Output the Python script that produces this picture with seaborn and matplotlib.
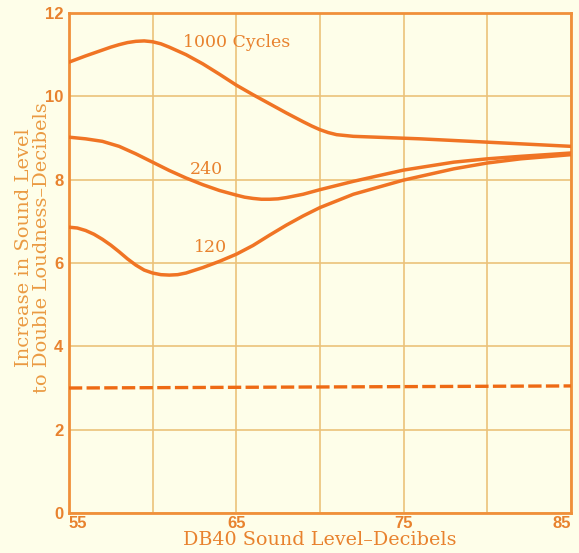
import matplotlib
matplotlib.use('Agg')
import matplotlib.pyplot as plt
import seaborn as sns
import pandas as pd

# values
x_1000 = [55, 56, 57, 57.5, 58, 58.5, 59, 59.5, 60, 60.5, 61, 62, 63, 64, 65, 66, 67, 68, 69, 69.5, 70, 70.5, 71, 72, 74, 76, 78, 80, 82, 85]
y_1000 = [10.82, 10.97, 11.11, 11.18, 11.24, 11.29, 11.32, 11.33, 11.31, 11.26, 11.18, 11.0, 10.78, 10.53, 10.27, 10.04, 9.82, 9.6, 9.39, 9.29, 9.2, 9.13, 9.08, 9.04, 9.01, 8.98, 8.94, 8.9, 8.86, 8.8]

x_240 = [55, 56, 57, 58, 59, 60, 61, 62, 63, 64, 65, 65.5, 66, 66.5, 67, 67.5, 68, 69, 70, 72, 75, 78, 80, 82, 85]
y_240 = [9.02, 8.98, 8.92, 8.80, 8.62, 8.42, 8.22, 8.04, 7.88, 7.74, 7.63, 7.58, 7.55, 7.53, 7.53, 7.54, 7.57, 7.65, 7.76, 7.96, 8.23, 8.42, 8.50, 8.56, 8.64]

x_120 = [55, 55.5, 56, 56.5, 57, 57.5, 58, 58.5, 59, 59.5, 60, 60.5, 61, 61.5, 62, 63, 64, 65, 66, 67, 68, 69, 70, 72, 75, 78, 80, 82, 85]
y_120 = [6.86, 6.84, 6.78, 6.69, 6.57, 6.43, 6.27, 6.10, 5.95, 5.83, 5.76, 5.72, 5.71, 5.72, 5.76, 5.89, 6.04, 6.21, 6.42, 6.67, 6.91, 7.13, 7.33, 7.65, 7.99, 8.26, 8.40, 8.50, 8.60]

x_ref = [55, 85]
y_ref = [3.0, 3.05]

x_ticks = [55, 65, 75, 85]
x_grid = [60, 70, 80]
y_ticks = [0, 2, 4, 6, 8, 10, 12]

curve_color = '#F07424'
grid_color = '#EBC27A'
text_color = '#E8822E'
bg_color = '#FEFEE9'

sns.set_theme(style='white')
plt.rcParams['font.family'] = ['DejaVu Serif']

fig = plt.figure(figsize=(5.79, 5.53), dpi=100)
fig.patch.set_facecolor(bg_color)
ax = fig.add_axes([0.119, 0.0723, 0.867, 0.9042])
ax.set_facecolor(bg_color)

for xs, ys in [(x_1000, y_1000), (x_240, y_240), (x_120, y_120)]:
    df = pd.DataFrame({'x': xs, 'y': ys})
    sns.lineplot(data=df, x='x', y='y', ax=ax, color=curve_color, lw=2.5, zorder=3,
                 solid_joinstyle='round', solid_capstyle='round')

ref = pd.DataFrame({'x': x_ref, 'y': y_ref})
sns.lineplot(data=ref, x='x', y='y', ax=ax, color='#EE6A14', lw=2.4,
             linestyle=(0, (4, 1.3)), zorder=3)

ax.set_xlim(55, 85)
ax.set_ylim(0, 12)
ax.set_xticks(x_ticks)
ax.set_xticks(x_grid, minor=True)
ax.set_yticks(y_ticks)
ax.grid(True, which='both', color=grid_color, lw=1.2, zorder=1)
ax.tick_params(which='both', length=0, colors=text_color)
ax.tick_params(axis='x', pad=2)
ax.tick_params(axis='y', pad=4)
for lab in ax.get_xticklabels() + ax.get_yticklabels():
    lab.set_family('Liberation Sans')
    lab.set_fontweight('bold')
    lab.set_fontsize(12)
    lab.set_color(text_color)
xlabs = ax.get_xticklabels()
xlabs[0].set_ha('left')
xlabs[-1].set_ha('right')

for side in ['left', 'bottom', 'top', 'right']:
    ax.spines[side].set_visible(True)
    ax.spines[side].set_color('#F0903A')
    ax.spines[side].set_linewidth(2)

ax.set_xlabel('DB40 Sound Level\u2013Decibels', fontsize=13.8, color=text_color, labelpad=0)
ax.set_ylabel('Increase in Sound Level\nto Double Loudness\u2013Decibels', fontsize=14,
              color='#EA9A42', linespacing=0.98)
ax.yaxis.set_label_coords(-0.036, 0.53)

ax.text(61.8, 11.3, '1000 Cycles', fontsize=12.5, color=text_color, va='center', ha='left')
ax.text(62.2, 8.25, '240', fontsize=12.5, color=text_color, va='center', ha='left')
ax.text(62.5, 6.38, '120', fontsize=12.5, color=text_color, va='center', ha='left')

fig.savefig('out.png', dpi=100, facecolor=bg_color)
plt.close()
